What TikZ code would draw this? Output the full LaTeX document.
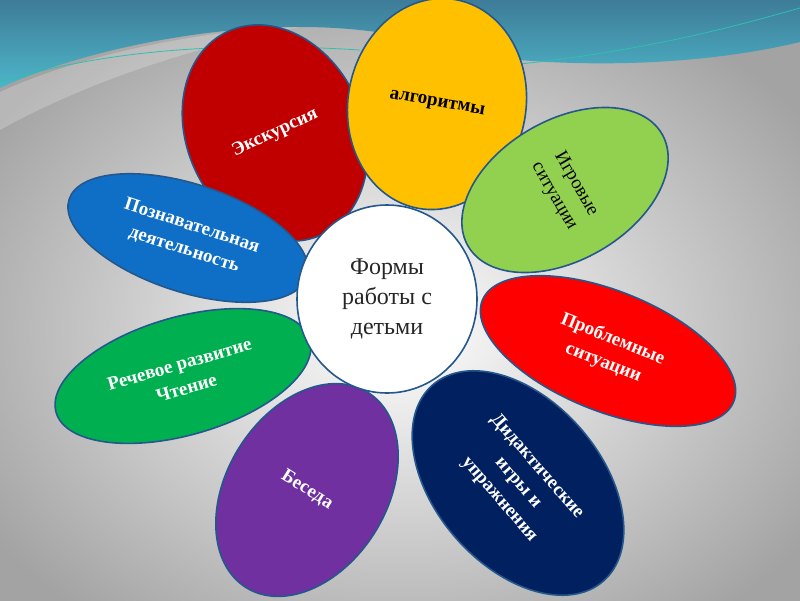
\documentclass[tikz,border=0pt]{standalone}
\usepackage{fontspec}
\setmainfont{Liberation Serif}
\usepackage{tikz}
\usetikzlibrary{shapes.geometric}
\definecolor{petalline}{HTML}{24578C}
\definecolor{wavetop}{HTML}{3E7C98}
\definecolor{wavelow}{HTML}{4DB6C9}
\definecolor{waveline}{HTML}{2FC0B0}
\definecolor{excred}{HTML}{C00000}
\definecolor{alggold}{HTML}{FFC000}
\definecolor{gamegreen}{HTML}{92D050}
\definecolor{cogblue}{HTML}{0F6FC6}
\definecolor{speechgreen}{HTML}{00B050}
\definecolor{probred}{HTML}{FF0000}
\definecolor{talkpurple}{HTML}{7030A0}
\definecolor{didnavy}{HTML}{002060}
\tikzset{
  petal/.style={
    ellipse, draw=petalline, line width=1.6pt,
    inner sep=1pt, align=center, text=white,
    font=\fontsize{19}{25}\selectfont\bfseries
  },
  darkpetal/.style={petal, text=black},
  corenode/.style={
    ellipse, draw=petalline, line width=1.6pt, fill=white,
    inner sep=1pt, align=center, text=black!85,
    font=\fontsize{24}{30}\selectfont
  },
}

\begin{document}
\begin{tikzpicture}[x=1pt,y=-1pt]
  % background
  \useasboundingbox (0,0) rectangle (800,600);
  \begin{scope}
    \clip (0,0) rectangle (800,600);
    \shade[inner color=white, outer color=black!36] (-90,-40) rectangle (890,700);
  \end{scope}
  \shade[top color=wavetop, bottom color=wavelow]
    (0,0) -- (800,0) -- (800,42) .. controls (700,66) and (590,66) .. (520,60)
    .. controls (450,50) and (400,27) .. (300,27)
    .. controls (190,27) and (70,55) .. (0,88) -- cycle;
  \fill[white, opacity=0.22] (0,92) .. controls (80,55) and (200,30) .. (300,27)
    .. controls (200,45) and (90,80) .. (0,130) -- cycle;
  \draw[waveline, line width=0.8pt] (0,82) .. controls (90,55) and (200,40) .. (360,50);
  \draw[waveline, line width=0.8pt] (520,64) .. controls (650,50) and (740,25) .. (800,8);

  % petals
  \node[petal, fill=excred, minimum width=176pt, minimum height=224pt, rotate=25] (exc) at (275,133) {Экскурсия};
  \node[petal, fill=cogblue, minimum width=250pt, minimum height=108pt, rotate=-18] (cog) at (188,238) {Познавательная\\деятельность};
  \node[petal, fill=speechgreen, minimum width=264pt, minimum height=118pt, rotate=16] (speech) at (183,376) {Речевое развитие\\Чтение};
  \node[petal, fill=talkpurple, minimum width=160pt, minimum height=230pt, rotate=-32] (talk) at (307,490) {Беседа};
  \node[petal, fill=didnavy, minimum width=260pt, minimum height=166pt, rotate=-49] (did) at (518,483) {Дидактические\\игры и\\упражнения};
  \node[petal, fill=probred, minimum width=271pt, minimum height=120pt, rotate=-22] (prob) at (608,351) {Проблемные\\ситуации};
  \node[darkpetal, fill=alggold, minimum width=178pt, minimum height=212pt, rotate=-10] (alg) at (437,104) {алгоритмы};
  \node[darkpetal, fill=gamegreen, font=\fontsize{19}{25}\selectfont, minimum width=140pt, minimum height=224pt, rotate=-60] (game) at (565,190) {Игровые\\ситуации};

  % centre
  \node[corenode, minimum width=180pt, minimum height=188pt] (core) at (387,299) {Формы\\работы с\\детьми};
\end{tikzpicture}
\end{document}
